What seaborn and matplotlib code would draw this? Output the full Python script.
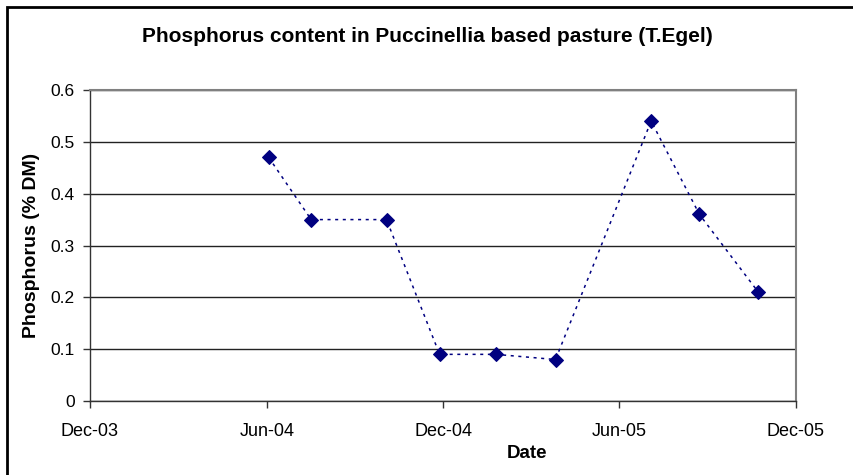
import seaborn as sns
import matplotlib.pyplot as plt
import matplotlib.dates as mdates
from matplotlib.patches import Rectangle
import pandas as pd

# Данные
dates = ['2004-06-03', '2004-07-17', '2004-10-03', '2004-11-27', '2005-01-24',
         '2005-03-27', '2005-07-04', '2005-08-23', '2005-10-23']
phosphorus = [0.47, 0.35, 0.35, 0.09, 0.09, 0.08, 0.54, 0.36, 0.21]
y_ticks = [0, 0.1, 0.2, 0.3, 0.4, 0.5, 0.6]

sns.set_style('white')
plt.rcParams['font.family'] = ['Liberation Sans', 'DejaVu Sans']
plt.rcParams['text.color'] = 'black'
plt.rcParams['axes.labelcolor'] = 'black'
plt.rcParams['xtick.color'] = 'black'
plt.rcParams['ytick.color'] = 'black'

df = pd.DataFrame({'Date': pd.to_datetime(dates), 'Phosphorus': phosphorus})

fig = plt.figure(figsize=(8.54, 4.75), dpi=100)
ax = fig.add_axes([90 / 854, 1 - 401 / 475, (796 - 90) / 854, (401 - 90) / 475])

sns.lineplot(data=df, x='Date', y='Phosphorus', ax=ax, color='#000080',
             linewidth=1.1, linestyle=(0, (2, 3)), marker='D', markersize=7,
             markeredgecolor='#000080', markerfacecolor='#000080')

ax.set_xlim(pd.Timestamp('2003-12-01'), pd.Timestamp('2005-12-01'))
ax.xaxis.set_major_locator(mdates.MonthLocator(bymonth=[6, 12]))
ax.xaxis.set_major_formatter(mdates.DateFormatter('%b-%y'))
ax.set_ylim(0, 0.6)
ax.set_yticks(y_ticks)
ax.set_yticklabels(['0'] + [f'{v:.1f}' for v in y_ticks[1:]])
ax.grid(axis='y', color='#222222', linewidth=1)
ax.set_axisbelow(True)

for side in ['top', 'right']:
    ax.spines[side].set_color('#808080')
    ax.spines[side].set_linewidth(1.5)
for side in ['left', 'bottom']:
    ax.spines[side].set_color('#333333')
    ax.spines[side].set_linewidth(1)

ax.tick_params(axis='both', direction='out', length=5, width=1, color='#333333',
               labelsize=12.5, bottom=True, left=True)
ax.tick_params(axis='x', labelsize=13, pad=11)
ax.tick_params(axis='y', pad=6)

ax.set_xlabel('Date', fontsize=13.5, fontweight='bold', va='center')
ax.xaxis.set_label_coords((527 - 90) / 706, (401 - 454) / 311)
ax.set_ylabel('Phosphorus (% DM)', fontsize=14, fontweight='bold', va='center')
ax.yaxis.set_label_coords((31 - 90) / 706, 0.5)
fig.text(0.5, 1 - 37 / 475, 'Phosphorus content in Puccinellia based pasture (T.Egel)',
         ha='center', va='center', fontsize=15, fontweight='bold')

# Рамка вокруг всей диаграммы
fig.patches.append(Rectangle((7 / 854, -0.05), 1.0, 1 - 7 / 475 + 0.05,
                             transform=fig.transFigure, fill=False,
                             edgecolor='black', linewidth=2, clip_on=False))

fig.savefig('out.png', dpi=100)
